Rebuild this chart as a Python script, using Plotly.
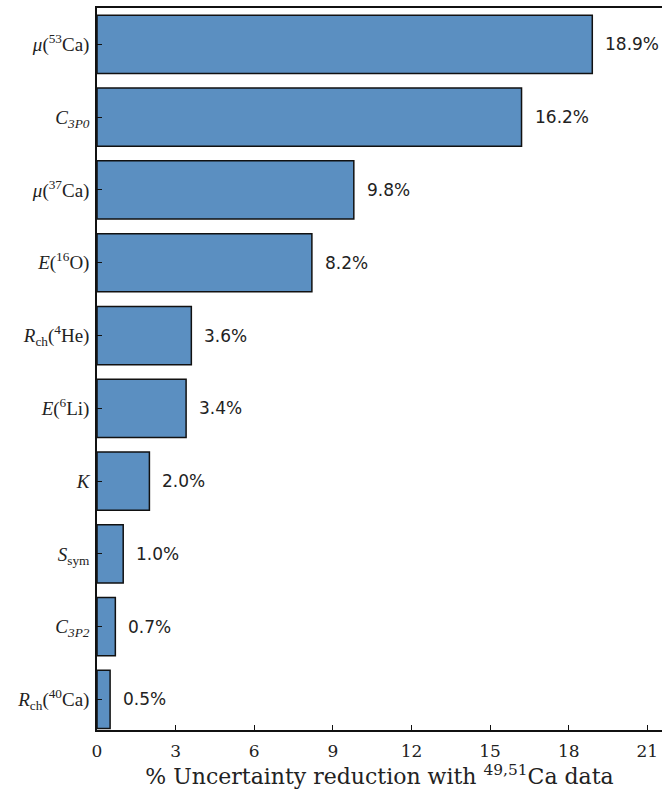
import plotly.graph_objects as go

# Datos (de abajo hacia arriba)
etiquetas = ["<i>R</i><sub>ch</sub>(<sup>40</sup>Ca)", "<i>C</i><sub><i>3P2</i></sub>",
             "<i>S</i><sub>sym</sub>", "<i>K</i>", "<i>E</i>(<sup>6</sup>Li)",
             "<i>R</i><sub>ch</sub>(<sup>4</sup>He)", "<i>E</i>(<sup>16</sup>O)",
             "<i>μ</i>(<sup>37</sup>Ca)", "<i>C</i><sub><i>3P0</i></sub>",
             "<i>μ</i>(<sup>53</sup>Ca)"]
valores = [0.5, 0.7, 1.0, 2.0, 3.4, 3.6, 8.2, 9.8, 16.2, 18.9]
marcas_x = [0, 3, 6, 9, 12, 15, 18, 21]

pos = list(range(len(valores)))

fig = go.Figure()
fig.add_trace(go.Bar(
    x=valores, y=pos, orientation="h", width=0.8,
    marker=dict(color="#5b8fc1", line=dict(color="#111111", width=1.5)),
    showlegend=False))

for p, v in zip(pos, valores):
    fig.add_annotation(x=v, y=p, text=f"{v:.1f}%", showarrow=False,
                       xanchor="left", xshift=11,
                       font=dict(family="DejaVu Sans", size=17, color="#222222"))

fig.update_layout(
    width=662, height=794,
    margin=dict(l=97, r=0, t=8, b=64, autoexpand=False),
    plot_bgcolor="white", paper_bgcolor="white",
    bargap=0.2,
)
fig.update_xaxes(
    range=[0, 21.56], tickvals=marcas_x, ticks="inside", ticklen=5,
    tickcolor="#111111", showline=True, linecolor="#111111", linewidth=1.5,
    mirror=True, showgrid=False, zeroline=False, automargin=False,
    ticklabelstandoff=5,
    tickfont=dict(family="DejaVu Serif", size=17, color="#222222"),
    title=dict(text="% Uncertainty reduction with <sup>49,51</sup>Ca data",
               font=dict(family="DejaVu Serif", size=22, color="#222222"),
               standoff=7),
)
fig.update_yaxes(
    range=[-0.42, 9.5], tickvals=pos, ticktext=etiquetas, ticks="inside",
    ticklen=5, tickcolor="#111111", showline=True, linecolor="#111111",
    linewidth=1.5, showgrid=False, zeroline=False, automargin=False,
    ticklabelstandoff=2,
    tickfont=dict(family="Liberation Serif", size=19, color="#222222"),
)

fig.write_html("out.html", config={"displayModeBar": False},
               post_script="document.body.style.margin='0';")
